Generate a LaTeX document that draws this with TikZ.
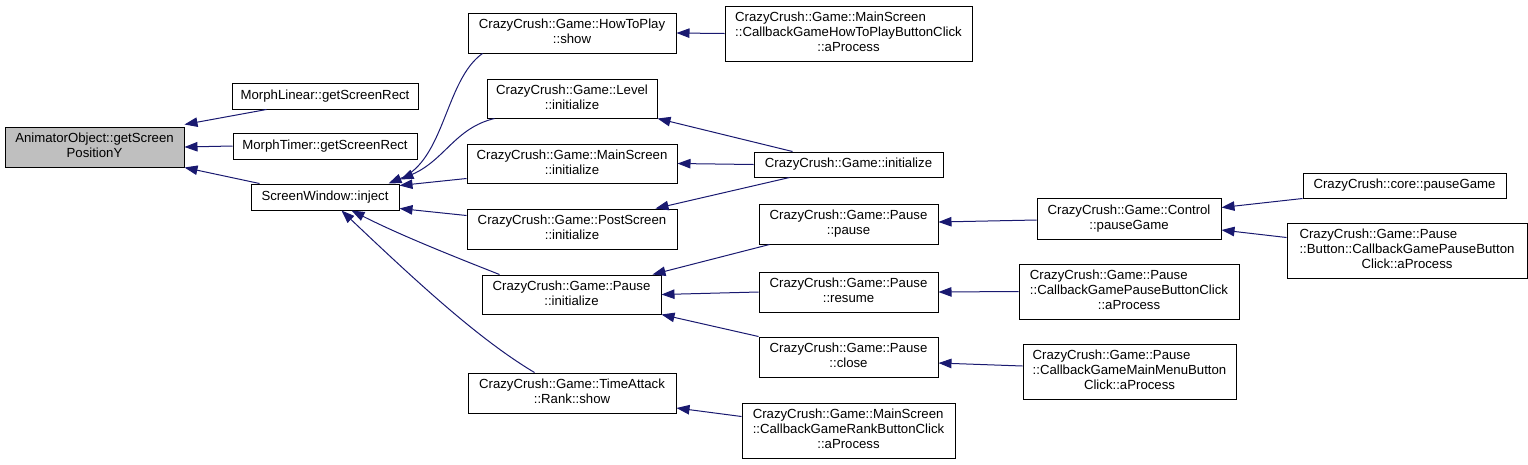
\documentclass[tikz,border=0pt]{standalone}
\usepackage{fontspec}
\setmainfont{Liberation Sans}
\usetikzlibrary{arrows.meta}
\definecolor{edgeblue}{RGB}{25,25,112}
\definecolor{aogray}{RGB}{191,191,191}
\newcommand\firstln[1]{\multicolumn{1}{@{}l@{}}{#1}}
\newcommand\lns[1]{\begin{tabular}{@{}c@{}}#1\end{tabular}}
\tikzset{
  fbox/.style={draw=black, line width=1pt, fill=white, inner sep=0pt,
    font=\fontsize{13.2}{15}\selectfont},
  edge/.style={draw=edgeblue, line width=1pt, -{Triangle[length=13pt,width=9.5pt]}}
}
\begin{document}
\begin{tikzpicture}[x=1pt,y=-1pt]
\useasboundingbox (0,0) rectangle (1528,464);
% column 1
\node[fbox, fill=aogray, minimum width=179pt, minimum height=40pt] (AO) at (94.5,147) {\lns{AnimatorObject::getScreen\\PositionY}};
% column 2
\node[fbox, minimum width=186pt, minimum height=26pt] (ML) at (325,96) {MorphLinear::getScreenRect};
\node[fbox, minimum width=184pt, minimum height=26pt] (MT) at (325,146) {MorphTimer::getScreenRect};
\node[fbox, minimum width=148pt, minimum height=26pt] (SW) at (325,197) {ScreenWindow::inject};
% column 3
\node[fbox, minimum width=208pt, minimum height=40pt] (HTP) at (572,33) {\lns{CrazyCrush::Game::HowToPlay\\::show}};
\node[fbox, minimum width=170pt, minimum height=39pt] (LV) at (572,98.5) {\lns{CrazyCrush::Game::Level\\::initialize}};
\node[fbox, minimum width=210pt, minimum height=39pt] (MSI) at (572,163.5) {\lns{CrazyCrush::Game::MainScreen\\::initialize}};
\node[fbox, minimum width=210pt, minimum height=40pt] (PSI) at (572,229) {\lns{CrazyCrush::Game::PostScreen\\::initialize}};
\node[fbox, minimum width=179pt, minimum height=39pt] (PAI) at (571.5,294.5) {\lns{CrazyCrush::Game::Pause\\::initialize}};
\node[fbox, minimum width=208pt, minimum height=40pt] (TAR) at (572,393) {\lns{CrazyCrush::Game::TimeAttack\\::Rank::show}};
% column 4
\node[fbox, minimum width=247pt, minimum height=55pt] (CGHTP) at (848.5,33.5) {\lns{\firstln{CrazyCrush::Game::MainScreen}\\::CallbackGameHowToPlayButtonClick\\::aProcess}};
\node[fbox, minimum width=189pt, minimum height=25pt] (GI) at (848.5,164.5) {CrazyCrush::Game::initialize};
\node[fbox, minimum width=179pt, minimum height=40pt] (PP) at (848.5,224) {\lns{CrazyCrush::Game::Pause\\::pause}};
\node[fbox, minimum width=179pt, minimum height=40pt] (PR) at (848.5,292) {\lns{CrazyCrush::Game::Pause\\::resume}};
\node[fbox, minimum width=179pt, minimum height=40pt] (PC) at (848.5,357) {\lns{CrazyCrush::Game::Pause\\::close}};
\node[fbox, minimum width=213pt, minimum height=55pt] (CGR) at (848.5,430.5) {\lns{\firstln{CrazyCrush::Game::MainScreen}\\::CallbackGameRankButtonClick\\::aProcess}};
% column 5
\node[fbox, minimum width=184pt, minimum height=41pt] (CPG) at (1129,218.5) {\lns{CrazyCrush::Game::Control\\::pauseGame}};
\node[fbox, minimum width=220pt, minimum height=55pt] (CGPBC) at (1129,291.5) {\lns{\firstln{CrazyCrush::Game::Pause}\\::CallbackGamePauseButtonClick\\::aProcess}};
\node[fbox, minimum width=213pt, minimum height=55pt] (CGMM) at (1129.5,371.5) {\lns{\firstln{CrazyCrush::Game::Pause}\\::CallbackGameMainMenuButton\\Click::aProcess}};
% column 6
\node[fbox, minimum width=203pt, minimum height=25pt] (CORE) at (1404.5,185.5) {CrazyCrush::core::pauseGame};
\node[fbox, minimum width=240pt, minimum height=55pt] (BTN) at (1407,250.5) {\lns{\firstln{CrazyCrush::Game::Pause}\\::Button::CallbackGamePauseButton\\Click::aProcess}};
% edges
\draw[edge] ([xshift=35pt]ML.south west) -- ([yshift=2pt]AO.north east);
\draw[edge] (MT.west) -- (AO.east);
\draw[edge] ([xshift=9pt]SW.north west) -- (AO.south east);
\draw[edge] ([xshift=15pt]HTP.south west) .. controls (445,80) and (445,160) .. ([xshift=-11pt]SW.north east);
\draw[edge] ([xshift=8pt]LV.south west) .. controls (455,128) and (445,160) .. ([xshift=1pt,yshift=4pt]SW.north east);
\draw[edge] ([yshift=5pt]MSI.south west) -- ([yshift=-2pt]SW.north east);
\draw[edge] ([yshift=-7pt]PSI.north west) -- ([yshift=2pt]SW.south east);
\draw[edge] ([xshift=18pt]PAI.north west) .. controls (450,255) and (400,235) .. ([xshift=101pt]SW.south west);
\draw[edge] ([xshift=67pt]TAR.north west) .. controls (480,340) and (420,285) .. ([xshift=91pt]SW.south west);
\draw[edge] (CGHTP.west) -- (HTP.east);
\draw[edge] ([xshift=39pt]GI.north west) -- (LV.south east);
\draw[edge] (GI.west) -- (MSI.east);
\draw[edge] ([xshift=36pt]GI.south west) -- ([xshift=-22pt]PSI.north east);
\draw[edge] ([xshift=11pt]PP.south west) -- ([xshift=-9pt]PAI.north east);
\draw[edge] (PR.west) -- (PAI.east);
\draw[edge] (PC.north west) -- (PAI.south east);
\draw[edge] ([yshift=14pt]CGR.west) -- ([yshift=-15pt]TAR.east);
\draw[edge] ([yshift=-1.5pt]CPG.west) -- ([yshift=2pt]PP.east);
\draw[edge] (CGPBC.west) -- (PR.east);
\draw[edge] ([yshift=5.5pt]CGMM.west) -- ([yshift=-6pt]PC.east);
\draw[edge] (CORE.south west) -- ([yshift=11pt]CPG.east);
\draw[edge] ([yshift=13pt]BTN.west) -- ([yshift=-11.5pt]CPG.east);
\end{tikzpicture}
\end{document}
